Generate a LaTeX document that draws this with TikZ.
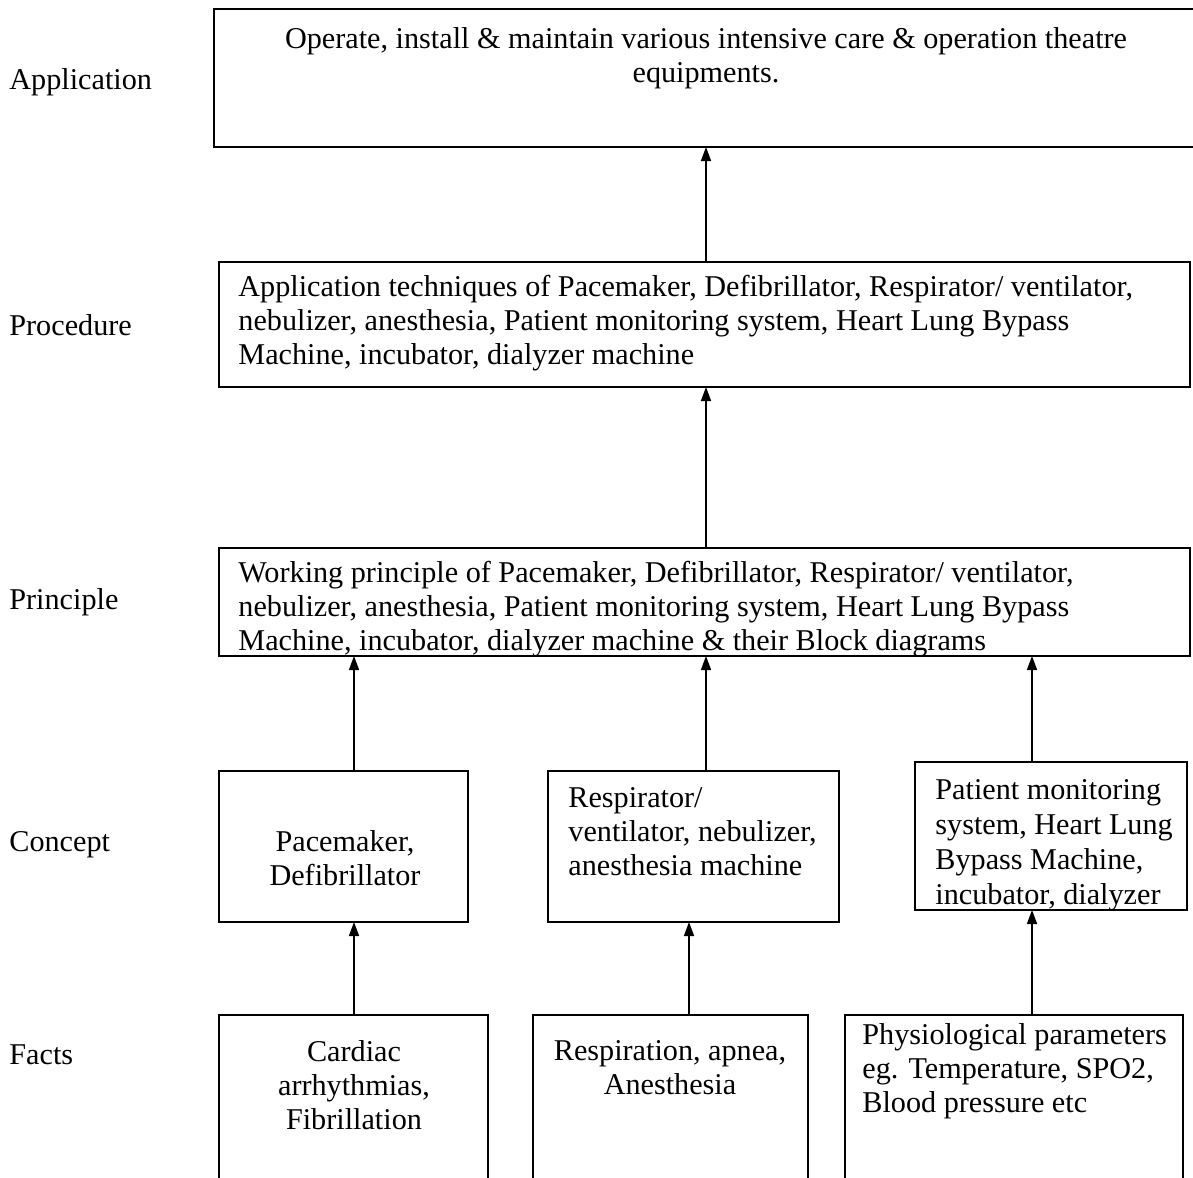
\documentclass[tikz,border=0pt]{standalone}
\usepackage{fontspec}
\setmainfont{Liberation Serif}
\usetikzlibrary{arrows.meta, fit}
\newcommand{\fs}{\fontsize{15.1pt}{17pt}\selectfont}

\begin{document}
\begin{tikzpicture}[x = 0.5pt, y = -0.5pt,
    box/.style = {draw, line width = 0.8pt, inner sep = 0pt, outer sep = 0pt},
    txt/.style = {font = \fs, inner sep = 0pt, anchor = north west, align = left},
    side/.style = {font = \fs, inner sep = 0pt, anchor = west},
    up/.style = {line width = 0.8pt, -{Triangle[length = 7pt, width = 5pt]}}]
    \useasboundingbox (0,0) rectangle (1193,1177);
    % Colonne
    \coordinate (colA) at (354,0);
    \coordinate (colB) at (706,0);
    \coordinate (colC) at (1032,0);
    \coordinate (colD) at (689,0);
    % Livelli
    \node[side] (lblApp) at (9,82) {Application};
    \node[side] (lblProc) at (9,325) {Procedure};
    \node[side] (lblPrin) at (9,602) {Principle};
    \node[side] (lblConc) at (9,845) {Concept};
    \node[side] (lblFact) at (9,1055) {Facts};
    % Application
    \node[box, line width = 1.2pt, fit = {(214,9) (1215,147)}] (appl) {};
    \node[txt, anchor = north, align = center] (applTxt) at (706,27) {Operate, install \& maintain various intensive care \& operation theatre\\equipments.};
    % Procedure
    \node[box, fit = {(219,262) (1190,387)}] (proc) {};
    \node[txt] (procTxt) at (238,275) {Application techniques of Pacemaker, Defibrillator, Respirator/ ventilator,\\nebulizer, anesthesia, Patient monitoring system, Heart Lung Bypass\\Machine, incubator, dialyzer machine};
    % Principle
    \node[box, fit = {(219,548) (1190,656)}] (prin) {};
    \node[txt] (prinTxt) at (238,561) {Working principle of Pacemaker, Defibrillator, Respirator/ ventilator,\\nebulizer, anesthesia, Patient monitoring system, Heart Lung Bypass\\Machine, incubator, dialyzer machine \& their Block diagrams};
    % Concept
    \node[box, fit = {(219,771) (468,922)}] (concA) {};
    \node[txt, anchor = center, align = center] (concATxt) at (345,858) {Pacemaker,\\Defibrillator};
    \node[box, fit = {(548,771) (839,922)}] (concB) {};
    \node[txt] (concBTxt) at (568,787) {Respirator/\\ventilator, nebulizer,\\anesthesia machine};
    \node[box, fit = {(915,762) (1187,910)}] (concC) {};
    \begin{scope}
        \clip (concC.south west) rectangle (concC.north east);
        \node[txt, font = \fontsize{15.1pt}{17.5pt}\selectfont] (concCTxt) at (935,779) {Patient monitoring\\system, Heart Lung\\Bypass Machine,\\incubator, dialyzer};
    \end{scope}
    % Facts
    \node[box, fit = {(219,1015) (488,1230)}] (factA) {};
    \node[txt, anchor = north, align = center] (factATxt) at (354,1040) {Cardiac\\arrhythmias,\\Fibrillation};
    \node[box, fit = {(533,1015) (808,1230)}] (factB) {};
    \node[txt, anchor = north, align = center] (factBTxt) at (670,1040) {Respiration, apnea,\\Anesthesia};
    \node[box, fit = {(845,1015) (1183,1230)}] (factC) {};
    \node[txt] (factCTxt) at (862,1023) {Physiological parameters\\eg. Temperature, SPO2,\\Blood pressure etc};
    % Frecce
    \draw[up] (proc.north -| colB) -- (appl.south -| colB);
    \draw[up] (prin.north -| colB) -- (proc.south -| colB);
    \draw[up] (concA.north -| colA) -- (prin.south -| colA);
    \draw[up] (concB.north -| colB) -- (prin.south -| colB);
    \draw[up] (concC.north -| colC) -- (prin.south -| colC);
    \draw[up] (factA.north -| colA) -- (concA.south -| colA);
    \draw[up] (factB.north -| colD) -- (concB.south -| colD);
    \draw[up] (factC.north -| colC) -- (concC.south -| colC);
\end{tikzpicture}
\end{document}
